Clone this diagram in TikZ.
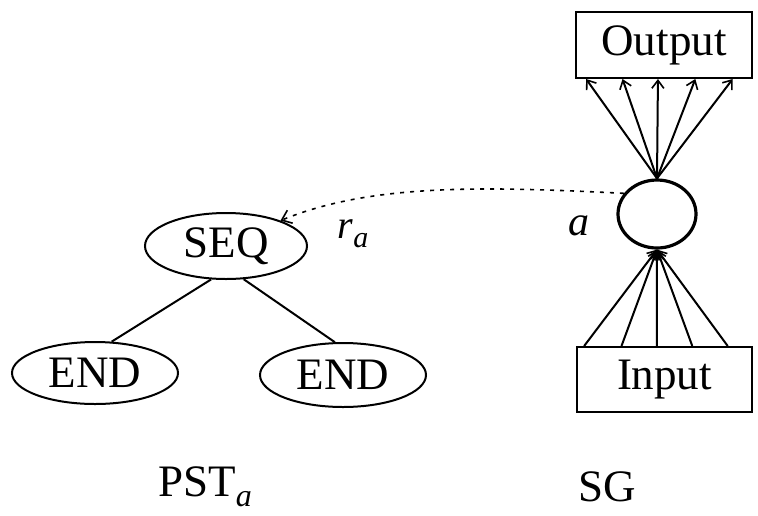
\documentclass[tikz,border=0pt]{standalone}
\usepackage{fontspec}
\setmainfont{Liberation Serif}
\usetikzlibrary{arrows.meta,calc,shapes.geometric}
\begin{document}
\begin{tikzpicture}[x=1pt,y=-1pt,
  big/.style={font=\fontsize{45}{50}\selectfont},
  treenode/.style={draw,ellipse,line width=2pt,inner sep=0pt,big},
  block/.style={draw,line width=2pt,inner sep=0pt,big},
  edge/.style={line width=2pt},
  flow/.style={line width=2pt,-{Straight Barb[length=8pt,width=12pt,line width=1.6pt]}},
  ref/.style={line width=1.6pt,dash pattern=on 4pt off 6pt,-{Straight Barb[length=9pt,width=14pt,line width=1.6pt]}}]
\useasboundingbox (0,0) rectangle (758,515);

% program structure tree
\node[treenode,minimum width=162pt,minimum height=66pt] (seq) at (226,246) {SEQ};
\node[treenode,minimum width=166pt,minimum height=62pt] (endl) at (95,373) {END};
\node[treenode,minimum width=166pt,minimum height=64pt] (endr) at (343,375) {END};
\draw[edge] (seq.-114) -- (endl.62);
\draw[edge] (seq.-62) -- (endr.104);

% structure graph
\node[block,minimum width=176pt,minimum height=66pt] (out) at (664,45) {Output};
\node[block,minimum width=175pt,minimum height=65pt] (in) at (664.5,379.5) {Input};
\node[draw,ellipse,line width=3.2pt,minimum width=78pt,minimum height=68pt] (a) at (657,214) {};

\foreach \f [count=\i] in {0.0625,0.267,0.466,0.676,0.886}{
  \coordinate (o\i) at ($(out.south west)!\f!(out.south east)$);
  \draw[flow] (a.north) -- (o\i);
}
\foreach \f [count=\i] in {0.046,0.257,0.457,0.657,0.857}{
  \coordinate (p\i) at ($(in.north west)!\f!(in.north east)$);
  \draw[flow] (p\i) -- (a.south);
}

% reference from the node to its tree
\draw[ref] (a.148) .. controls (480,186) and (370,184) .. (seq.25);

\node[font=\fontsize{40}{44}\selectfont] (ra) at (353,234) {\textit{r}\raisebox{-0.22em}{\fontsize{30}{30}\selectfont\textit{a}}};
\node[font=\fontsize{42}{44}\selectfont\itshape] (alab) at (579,226) {a};

% captions
\node[big] (pst) at (205,487) {PST\raisebox{-0.22em}{\fontsize{32}{32}\selectfont\textit{a}}};
\node[big] (sg) at (607,487) {SG};
\end{tikzpicture}
\end{document}
